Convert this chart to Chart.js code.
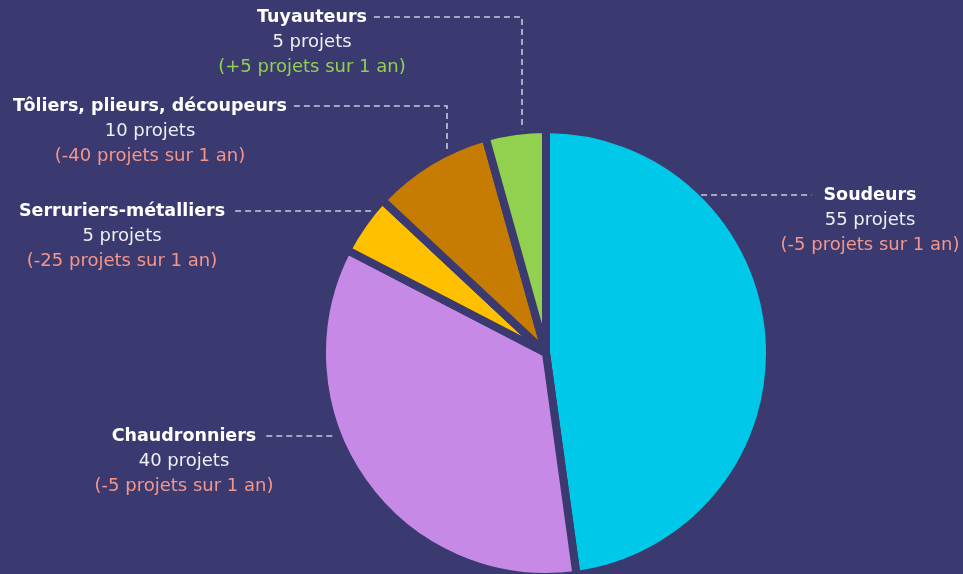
<!DOCTYPE html>
<html lang="fr">
<head>
<meta charset="utf-8">
<title>Projets par métier</title>
<script src="https://cdn.jsdelivr.net/npm/chart.js@4.4.1/dist/chart.umd.min.js"></script>
<style>
  html, body { margin: 0; padding: 0; background: #3b3a70; }
  #wrap { width: 963px; height: 574px; position: relative; }
</style>
</head>
<body>
<div id="wrap"><canvas id="pie"></canvas></div>
<script>
// Data (clockwise from the top)
const metiers = ['Soudeurs', 'Chaudronniers', 'Serruriers-métalliers', 'Tôliers, plieurs, découpeurs', 'Tuyauteurs'];
const projets = [55, 40, 5, 10, 5];
const evolution1an = [-5, -5, -25, -40, 5];
const couleurs = ['#00c8e8', '#c68ae6', '#ffc000', '#c67c02', '#92d050'];

const BG = '#3b3a70';
const FONT = '"DejaVu Sans", sans-serif';
const LINE_H = 25;

// Label block placement: centre x, first line y, which side the leader leaves from,
// and for bent leaders the x where the line turns down towards the slice
const labelLayout = [
    { x: 870, y: 195, side: 'left' },
    { x: 184, y: 436, side: 'right' },
    { x: 122, y: 211, side: 'right' },
    { x: 150, y: 106, side: 'right', bendX: 447 },
    { x: 312, y: 17, side: 'right', bendX: 522 }
];

const calloutLabels = {
    id: 'calloutLabels',
    afterDatasetsDraw(chart) {
        const ctx = chart.ctx;
        const meta = chart.getDatasetMeta(0);
        const bw = chart.data.datasets[0].borderWidth;

        meta.data.forEach((arc, i) => {
            const pos = labelLayout[i];
            const r = arc.outerRadius - bw / 2;
            const cx = arc.x, cy = arc.y;

            ctx.save();
            ctx.textAlign = 'center';
            ctx.textBaseline = 'middle';

            // name
            ctx.font = 'bold 17.5px ' + FONT;
            ctx.fillStyle = '#ffffff';
            ctx.fillText(metiers[i], pos.x, pos.y);
            const nameW = ctx.measureText(metiers[i]).width;

            // count
            ctx.font = '18px ' + FONT;
            ctx.fillStyle = '#eeeef4';
            ctx.fillText(projets[i] + ' projets', pos.x, pos.y + LINE_H);

            // one-year change
            const d = evolution1an[i];
            ctx.fillStyle = d > 0 ? '#92d050' : '#f4968a';
            ctx.fillText('(' + (d > 0 ? '+' : '') + d + ' projets sur 1 an)', pos.x, pos.y + LINE_H * 2);

            // dashed leader
            ctx.strokeStyle = '#c9c9da';
            ctx.lineWidth = 1.6;
            ctx.setLineDash([6, 4]);
            ctx.beginPath();
            if (pos.side === 'left') {
                const dy = pos.y - cy;
                const edgeX = cx + Math.sqrt(r * r - dy * dy);
                ctx.moveTo(edgeX + 2, pos.y);
                ctx.lineTo(pos.x - nameW / 2 - 12, pos.y);
            } else if (pos.bendX) {
                const dx = pos.bendX - cx;
                const edgeY = cy - Math.sqrt(r * r - dx * dx);
                ctx.moveTo(pos.x + nameW / 2 + 7, pos.y);
                ctx.lineTo(pos.bendX, pos.y);
                ctx.lineTo(pos.bendX, edgeY - 5);
            } else {
                const dy = pos.y - cy;
                const edgeX = cx - Math.sqrt(r * r - dy * dy);
                ctx.moveTo(pos.x + nameW / 2 + 10, pos.y);
                ctx.lineTo(edgeX - 6, pos.y);
            }
            ctx.stroke();
            ctx.restore();
        });
    }
};

new Chart(document.getElementById('pie'), {
    type: 'pie',
    data: {
        labels: metiers,
        datasets: [{
            data: projets,
            backgroundColor: couleurs,
            borderColor: BG,
            borderWidth: 8,
            hoverOffset: 0
        }]
    },
    options: {
        responsive: true,
        maintainAspectRatio: false,
        animation: false,
        radius: 224,
        layout: { padding: { left: 129, right: 0, top: 132, bottom: 0 } },
        plugins: {
            legend: { display: false },
            tooltip: { enabled: false }
        }
    },
    plugins: [calloutLabels]
});
</script>
</body>
</html>
